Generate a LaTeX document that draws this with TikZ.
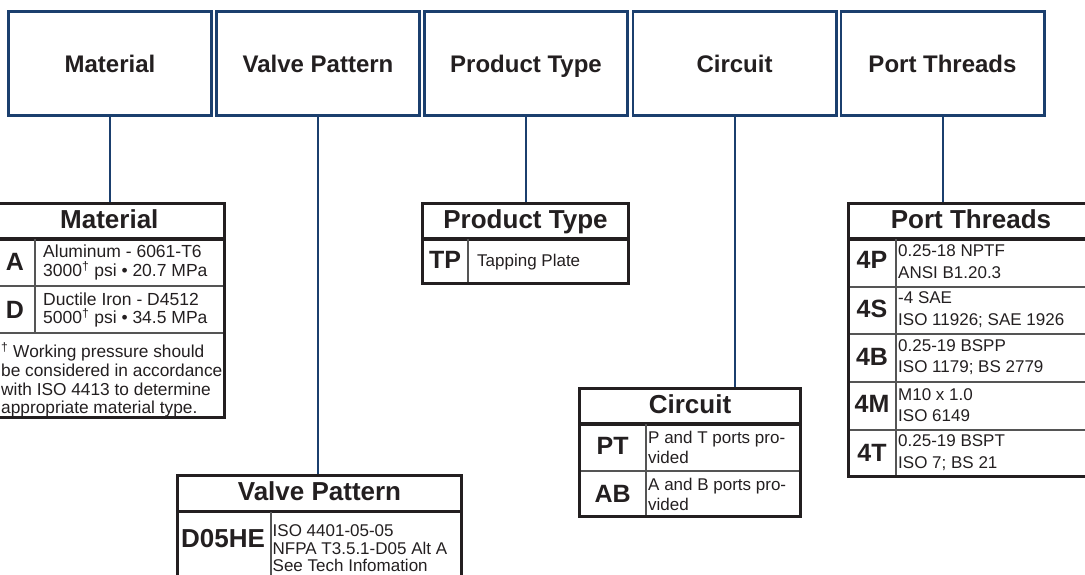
\documentclass[tikz,border=0pt]{standalone}
\usepackage{fontspec}
\setmainfont{Liberation Sans}
\usepackage{tikz}

\definecolor{pipeblue}{RGB}{27,63,110}
\definecolor{tabline}{RGB}{35,31,32}
\definecolor{rulegray}{RGB}{85,85,85}
\definecolor{inkgray}{RGB}{35,31,32}

\tikzset{
	topbox/.style={draw=pipeblue,line width=2.6pt,minimum width=203.4pt,minimum height=104.4pt,inner sep=0pt,
		font=\bfseries\fontsize{24}{28}\selectfont,text height=17.2pt,text depth=0pt},
	tabhead/.style={draw=tabline,line width=2.6pt,anchor=north,minimum height=35.7pt,inner sep=0pt,
		font=\bfseries\fontsize{26}{30}\selectfont,text height=18.7pt,text depth=5.2pt},
	tabframe/.style={draw=tabline,line width=2.6pt},
	tabrule/.style={draw=rulegray,line width=1.8pt},
	codetext/.style={inner sep=0pt,font=\bfseries\fontsize{25}{30}\selectfont,text height=18pt,text depth=0pt},
	desc/.style={inner sep=0pt,anchor=west,align=left,font=\fontsize{17}{21.5}\selectfont},
	pipe/.style={draw=pipeblue,line width=2pt}
}

\begin{document}
\begin{tikzpicture}[x=1pt,y=-1pt,text=inkgray]
	\useasboundingbox (0,0) rectangle (1085,575);
	\clip (0,0) rectangle (1085,575);
	% code boxes
	\node[topbox] (topmat) at (110,63.5) {Material};
	\node[topbox] (topvalve) at (318,63.5) {Valve Pattern};
	\node[topbox] (topprod) at (526,63.5) {Product Type};
	\node[topbox] (topcirc) at (734.5,63.5) {Circuit};
	\node[topbox] (topport) at (942.5,63.5) {Port Threads};
	% material
	\node[tabhead,minimum width=230.7pt] (mathead) at (109.35,202.3) {Material};
	\draw[tabrule] (-6,286) -- (224.7,286) (-6,333) -- (224.7,333) (35,238) -- (35,333);
	\draw[tabframe] (-6,238) rectangle (224.7,417.7);
	\node[codetext] (matA) at (15,261.5) {A};
	\node[codetext] (matD) at (15,309.5) {D};
	\node[desc,font=\fontsize{17.5}{18.5}\selectfont] (matAtxt) at (43,262.5) {Aluminum - 6061-T6\\3000\textsuperscript{†} psi \textbullet{} 20.7 MPa};
	\node[desc,font=\fontsize{17.5}{18.5}\selectfont] (matDtxt) at (43,310) {Ductile Iron - D4512\\5000\textsuperscript{†} psi \textbullet{} 34.5 MPa};
	\node[desc,font=\fontsize{17.3}{18.8}\selectfont] (matnote) at (1,380) {\textsuperscript{†} Working pressure should\\be considered in accordance\\with ISO 4413 to determine\\appropriate material type.};
	% product type
	\node[tabhead,minimum width=206.4pt] (prodhead) at (525.5,202.3) {Product Type};
	\draw[tabrule] (468,238) -- (468,283.7);
	\draw[tabframe] (422.3,238) rectangle (628.7,283.7);
	\node[codetext] (prodTP) at (445,259.5) {TP};
	\node[desc] (prodTPtxt) at (477,262.5) {Tapping Plate};
	% circuit
	\node[tabhead,minimum width=221.4pt] (circhead) at (690,387.3) {Circuit};
	\draw[tabrule] (579.3,471) -- (800.7,471) (646,423) -- (646,516.7);
	\draw[tabframe] (579.3,423) rectangle (800.7,516.7);
	\node[codetext] (circPT) at (612.6,445.5) {PT};
	\node[codetext] (circAB) at (612.6,493.5) {AB};
	\node[desc,font=\fontsize{17}{20}\selectfont] (circPTtxt) at (648,447) {P and T ports pro-\\vided};
	\node[desc,font=\fontsize{17}{20}\selectfont] (circABtxt) at (648,494) {A and B ports pro-\\vided};
	% port threads
	\node[tabhead,minimum width=245.4pt] (porthead) at (971,202.3) {Port Threads};
	\draw[tabrule] (848.3,287) -- (1093.7,287) (848.3,334) -- (1093.7,334) (848.3,382) -- (1093.7,382)
		(848.3,430) -- (1093.7,430) (896,238) -- (896,476.7);
	\draw[tabframe] (848.3,238) rectangle (1093.7,476.7);
	\node[codetext] (port4P) at (872,259.5) {4P};
	\node[codetext] (port4S) at (872,308) {4S};
	\node[codetext] (port4B) at (872,356.5) {4B};
	\node[codetext] (port4M) at (872,403.7) {4M};
	\node[codetext] (port4T) at (872,452) {4T};
	\node[desc] (port4Ptxt) at (898,261.5) {0.25-18 NPTF\\ANSI B1.20.3};
	\node[desc] (port4Stxt) at (898,309.5) {-4 SAE\\ISO 11926; SAE 1926};
	\node[desc] (port4Btxt) at (898,357) {0.25-19 BSPP\\ISO 1179; BS 2779};
	\node[desc] (port4Mtxt) at (898,405) {M10 x 1.0\\ISO 6149};
	\node[desc] (port4Ttxt) at (898,452.5) {0.25-19 BSPT\\ISO 7; BS 21};
	% valve pattern
	\node[tabhead,minimum width=284.4pt] (valvehead) at (319.5,474.3) {Valve Pattern};
	\draw[tabrule] (271,511) -- (271,600);
	\draw[tabframe] (177.3,511) rectangle (461.7,600);
	\node[codetext,font=\bfseries\fontsize{26}{30}\selectfont] (valveD05HE) at (223,538) {D05HE};
	\node[desc,anchor=north west,font=\fontsize{17}{17.5}\selectfont] (valveD05HEtxt) at (272.5,524.5) {ISO 4401-05-05\\NFPA T3.5.1-D05 Alt A\\See Tech Infomation};
	% connectors
	\draw[pipe] (topmat.south) -- (topmat.south |- mathead.north);
	\draw[pipe] (topvalve.south) -- (topvalve.south |- valvehead.north);
	\draw[pipe] (topprod.south) -- (topprod.south |- prodhead.north);
	\draw[pipe] (topcirc.south) -- (topcirc.south |- circhead.north);
	\draw[pipe] (topport.south) -- (topport.south |- porthead.north);
\end{tikzpicture}
\end{document}
